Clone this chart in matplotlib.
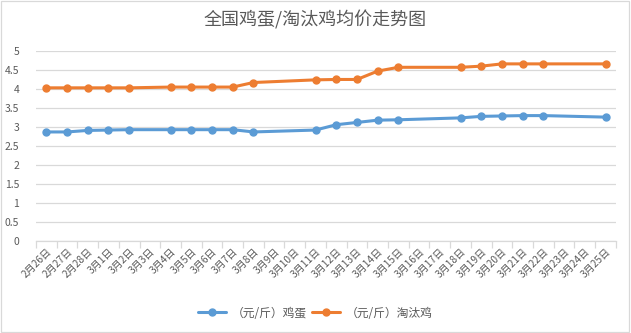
"""全国鸡蛋/淘汰鸡均价走势图 — line chart with gaps connected (Excel style)."""

import matplotlib
matplotlib.use("Agg")
import matplotlib.pyplot as plt
import numpy as np
from matplotlib.patches import Rectangle

plt.rcParams["font.family"] = ["Noto Sans CJK SC", "DejaVu Sans"]

DATES = ["2月26日", "2月27日", "2月28日", "3月1日", "3月2日", "3月3日", "3月4日",
         "3月5日", "3月6日", "3月7日", "3月8日", "3月9日", "3月10日", "3月11日",
         "3月12日", "3月13日", "3月14日", "3月15日", "3月16日", "3月17日", "3月18日",
         "3月19日", "3月20日", "3月21日", "3月22日", "3月23日", "3月24日", "3月25日"]
nan = np.nan
EGG = [2.87, 2.87, 2.91, 2.92, 2.93, nan, 2.93, 2.93, 2.93, 2.93, 2.87, nan, nan, 2.92,
       3.06, 3.12, 3.18, 3.19, nan, nan, 3.24, 3.28, 3.29, 3.30, 3.30, nan, nan, 3.26]
HEN = [4.03, 4.03, 4.03, 4.03, 4.03, nan, 4.05, 4.05, 4.05, 4.05, 4.17, nan, nan, 4.24,
       4.25, 4.25, 4.47, 4.57, nan, nan, 4.57, 4.60, 4.66, 4.66, 4.66, nan, nan, 4.66]
SERIES = [("（元/斤）鸡蛋", EGG, "#5B9BD5"), ("（元/斤）淘汰鸡", HEN, "#ED7D31")]

GRAY = "#595959"
GRID = "#D9D9D9"

fig = plt.figure(figsize=(6.31, 3.33), dpi=100)
ax = fig.add_axes([0.057, 0.276, 0.919, 0.571])

x = np.arange(len(DATES))
for name, vals, color in SERIES:
    v = np.array(vals, dtype=float)
    m = ~np.isnan(v)
    ax.plot(x[m], v[m], color=color, lw=2.2, marker="o", ms=5, label=name,
            solid_capstyle="round")

ax.set_xlim(-0.5, len(DATES) - 0.5)
ax.set_ylim(0, 5)
ax.set_yticks(np.arange(0, 5.01, 0.5))
ax.set_yticklabels([f"{t:g}" for t in np.arange(0, 5.01, 0.5)])
ax.yaxis.grid(True, color=GRID, lw=0.9)
ax.set_axisbelow(True)
for s in ["top", "right", "left"]:
    ax.spines[s].set_visible(False)
ax.spines["bottom"].set_color(GRID)
ax.spines["bottom"].set_linewidth(0.9)

ax.set_xticks(x)
ax.set_xticklabels(DATES, rotation=45, ha="right", rotation_mode="anchor",
                   fontsize=7.3, color=GRAY)
ax.tick_params(axis="x", length=0, pad=4)
ax.set_xticks(np.arange(-0.5, len(DATES)), minor=True)
ax.tick_params(axis="x", which="minor", length=5, color=GRID, width=0.9)
ax.tick_params(axis="y", length=0, labelsize=7.5, labelcolor=GRAY, pad=12)

fig.text(0.5, 0.94, "全国鸡蛋/淘汰鸡均价走势图", ha="center", va="center",
         fontsize=13, color=GRAY)
fig.legend(loc="center", bbox_to_anchor=(0.5, 0.06), ncol=2, frameon=False,
           fontsize=8.5, labelcolor=GRAY, handlelength=2.4, handletextpad=0.5,
           columnspacing=0.4)
fig.patches.append(Rectangle((0.002, 0.003), 0.995, 0.994, transform=fig.transFigure,
                             fill=False, edgecolor=GRID, lw=0.9))

fig.savefig("out.png", dpi=100)
